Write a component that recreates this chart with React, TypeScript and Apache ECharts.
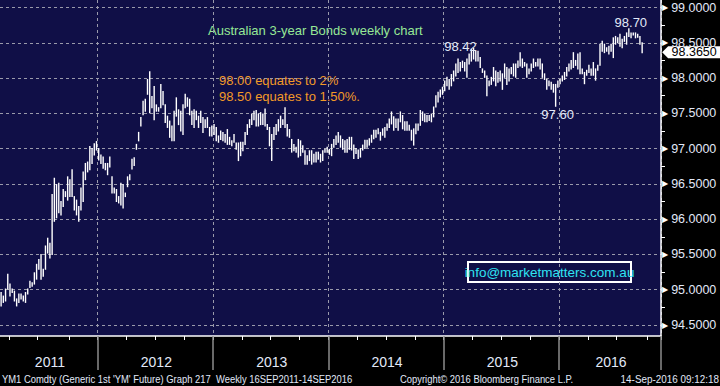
import React, { useEffect, useRef } from "react";
import * as echarts from "echarts";

// ---------- data ----------
const FIRST_WEEK = Date.UTC(2011, 2, 4); // Friday 4 Mar 2011
const WEEK_SLOTS = 298; // data weeks + empty weeks up to the right edge
const weeks: string[] = Array.from({ length: WEEK_SLOTS }, (_, i) =>
  new Date(FIRST_WEEK + i * 7 * 86400000).toISOString().slice(0, 10)
);

const highs: number[] = [
  94.96, 94.91, 95.01, 95.22, 95.08, 95.01, 94.98, 94.87, 94.94, 94.94,
  94.91, 94.96, 95.01, 95.12, 95.10, 95.24, 95.36, 95.43, 95.50, 95.29,
  95.62, 95.73, 95.66, 96.35, 96.58, 96.49, 96.51, 96.25, 96.42, 96.39,
  96.60, 96.56, 96.70, 96.32, 96.27, 96.18, 96.44, 96.67, 96.79, 96.81,
  97.03, 97.00, 97.07, 97.10, 97.00, 96.91, 96.88, 96.79, 96.79, 96.88,
  96.60, 96.44, 96.42, 96.32, 96.51, 96.49, 96.37, 96.60, 96.63, 96.85,
  96.87, 97.06, 97.23, 97.44, 97.67, 97.70, 97.98, 98.09, 97.74, 97.88,
  97.62, 97.58, 97.91, 97.81, 97.62, 97.46, 97.39, 97.32, 97.53, 97.72,
  97.55, 97.53, 97.62, 97.77, 97.72, 97.70, 97.53, 97.55, 97.53, 97.46,
  97.53, 97.44, 97.41, 97.44, 97.30, 97.32, 97.34, 97.30, 97.18, 97.25,
  97.23, 97.20, 97.27, 97.16, 97.11, 97.20, 97.08, 97.08, 97.09, 97.09,
  97.23, 97.34, 97.41, 97.49, 97.53, 97.54, 97.49, 97.51, 97.49, 97.56,
  97.34, 97.30, 97.20, 97.30, 97.34, 97.41, 97.46, 97.41, 97.58, 97.34,
  97.27, 97.13, 97.06, 97.02, 97.13, 97.11, 97.04, 96.97, 96.90, 96.97,
  96.97, 96.92, 96.95, 96.95, 96.92, 96.97, 96.99, 97.02, 96.99, 97.06,
  97.13, 97.18, 97.23, 97.18, 97.13, 97.11, 97.13, 97.16, 97.16, 97.05,
  97.00, 96.98, 97.00, 97.05, 97.12, 97.12, 97.14, 97.19, 97.26, 97.26,
  97.28, 97.23, 97.28, 97.30, 97.35, 97.42, 97.52, 97.45, 97.42, 97.42,
  97.52, 97.47, 97.38, 97.38, 97.33, 97.26, 97.28, 97.35, 97.35, 97.54,
  97.52, 97.49, 97.47, 97.47, 97.49, 97.59, 97.75, 97.80, 97.83, 97.87,
  97.96, 98.01, 97.98, 98.05, 98.10, 98.20, 98.27, 98.22, 98.24, 98.22,
  98.27, 98.34, 98.41, 98.42, 98.38, 98.38, 98.29, 98.13, 98.10, 98.03,
  97.96, 98.01, 98.15, 98.10, 98.08, 98.10, 98.06, 98.20, 98.15, 98.13,
  98.15, 98.20, 98.20, 98.24, 98.36, 98.27, 98.22, 98.20, 98.13, 98.20,
  98.27, 98.22, 98.27, 98.27, 98.20, 98.06, 97.98, 97.96, 97.94, 97.91,
  97.91, 97.96, 97.98, 98.03, 98.08, 98.15, 98.20, 98.25, 98.36, 98.25,
  98.34, 98.36, 98.13, 98.08, 98.11, 98.18, 98.13, 98.22, 98.13, 98.18,
  98.48, 98.52, 98.48, 98.43, 98.45, 98.48, 98.57, 98.59, 98.57, 98.62,
  98.55, 98.59, 98.64, 98.70, 98.64, 98.64, 98.64, 98.62, 98.59, 98.50,
];

const lows: number[] = [
  94.77, 94.82, 94.84, 95.01, 94.91, 94.96, 94.84, 94.77, 94.82, 94.87,
  94.84, 94.82, 94.94, 95.03, 95.05, 95.08, 95.15, 95.29, 95.15, 95.19,
  95.29, 95.52, 95.45, 95.50, 95.97, 96.02, 96.09, 96.06, 96.18, 96.32,
  96.27, 96.32, 96.32, 96.13, 96.06, 95.97, 96.13, 96.25, 96.56, 96.67,
  96.70, 96.79, 96.91, 96.98, 96.84, 96.79, 96.72, 96.70, 96.63, 96.74,
  96.37, 96.37, 96.25, 96.23, 96.20, 96.16, 96.32, 96.46, 96.56, 96.71,
  96.76, 96.99, 97.11, 97.32, 97.48, 97.53, 97.77, 97.51, 97.58, 97.41,
  97.53, 97.53, 97.58, 97.62, 97.37, 97.30, 97.16, 97.11, 97.11, 97.46,
  97.34, 97.25, 97.20, 97.58, 97.60, 97.48, 97.34, 97.30, 97.41, 97.30,
  97.37, 97.23, 97.30, 97.30, 97.18, 97.18, 97.20, 97.11, 97.09, 97.13,
  97.11, 97.09, 97.06, 97.06, 97.04, 97.09, 96.99, 96.83, 96.90, 96.97,
  97.06, 97.20, 97.30, 97.34, 97.41, 97.32, 97.32, 97.34, 97.34, 97.32,
  97.27, 97.04, 96.83, 97.13, 97.20, 97.25, 97.30, 97.34, 97.30, 97.18,
  97.16, 96.95, 96.97, 96.95, 96.88, 96.90, 96.95, 96.78, 96.78, 96.83,
  96.78, 96.81, 96.81, 96.85, 96.81, 96.83, 96.95, 96.95, 96.92, 96.90,
  97.02, 97.06, 97.09, 97.02, 96.99, 96.95, 96.95, 96.99, 96.98, 96.86,
  96.93, 96.86, 96.88, 96.98, 97.00, 97.02, 97.05, 97.09, 97.14, 97.16,
  97.21, 97.12, 97.19, 97.16, 97.26, 97.30, 97.35, 97.26, 97.30, 97.26,
  97.38, 97.28, 97.26, 97.26, 97.26, 97.12, 97.05, 97.21, 97.26, 97.33,
  97.40, 97.38, 97.38, 97.40, 97.38, 97.45, 97.59, 97.66, 97.73, 97.77,
  97.82, 97.89, 97.84, 97.89, 97.96, 98.03, 98.08, 98.10, 98.15, 98.10,
  98.01, 98.20, 98.24, 98.27, 98.24, 98.24, 98.15, 98.08, 98.01, 97.75,
  97.89, 97.91, 97.96, 97.89, 97.94, 97.96, 97.84, 98.01, 97.91, 97.96,
  98.06, 98.03, 98.01, 98.15, 98.17, 98.15, 98.17, 98.01, 98.06, 98.10,
  98.15, 98.17, 98.17, 98.13, 98.01, 97.98, 97.84, 97.89, 97.84, 97.80,
  97.60, 97.87, 97.92, 97.96, 97.98, 98.03, 98.10, 98.13, 98.15, 98.18,
  98.13, 98.06, 98.06, 97.92, 98.04, 98.08, 98.04, 98.04, 97.97, 98.11,
  98.18, 98.38, 98.36, 98.38, 98.34, 98.38, 98.29, 98.48, 98.50, 98.45,
  98.43, 98.52, 98.48, 98.59, 98.57, 98.61, 98.57, 98.58, 98.48, 98.36,
];

const lastPrice = 98.365;
const lastPriceText = "98.3650";
const callouts = [
  { week: 213, value: 98.42, text: "98.42" },
  { week: 250, value: 97.6, text: "97.60" },
  { week: 283, value: 98.7, text: "98.70" },
];
const priceTickMin = 94.5;
const priceTickMax = 99.0;
const priceTickStep = 0.5;

const chartTitle = "Australian 3-year Bonds weekly chart";
const noteLines = ["98.00 equates to 2%", "98.50 equates to 1.50%."];
const contactText = "info@marketmatters.com.au";
const footerLeft = "YM1 Comdty (Generic 1st 'YM' Future) Graph 217  Weekly 16SEP2011-14SEP2016";
const footerMid = "Copyright\u00A9 2016 Bloomberg Finance L.P.";
const footerRight = "14-Sep-2016 09:12:18";

// ---------- layout ----------
const W = 720;
const H = 386;
const PLOT_RIGHT = 59; // px from right edge
const PLOT_BOTTOM = 50; // px from bottom edge (plot box 0..336)
const TICK_TOP = 7.5; // y of 99.0
const TICK_BOTTOM = 325; // y of 94.5
const pxPerUnit = (TICK_BOTTOM - TICK_TOP) / (priceTickMax - priceTickMin);
const plotMax = priceTickMax + TICK_TOP / pxPerUnit;
const plotMin = priceTickMin - (H - PLOT_BOTTOM - TICK_BOTTOM) / pxPerUnit;

const yearOf = (i: number) => weeks[i].slice(0, 4);
const monthOf = (i: number) => Number(weeks[i].slice(5, 7));
const isYearStart = (i: number) => i > 0 && yearOf(i) !== yearOf(i - 1);
const isQuarterStart = (i: number) =>
  i > 0 && monthOf(i) !== monthOf(i - 1) && [1, 4, 7, 10].includes(monthOf(i));

const yearLabelIdx = new Set<number>();
{
  const spans: Record<string, [number, number]> = {};
  weeks.forEach((_, i) => {
    const y = yearOf(i);
    if (!spans[y]) spans[y] = [i, i];
    spans[y][1] = i;
  });
  Object.values(spans).forEach(([a, b]) => yearLabelIdx.add(Math.round((a + b) / 2)));
}

const TEXT_LIGHT = "#e2e9f8";
const GRID_DASH = "#9a9aab";
const PLOT_BG = "#100f47";
const SANS = "'Liberation Sans', Arial, sans-serif";
const FOOT_FONT = "11.5px 'Liberation Sans', Arial, sans-serif";

export default function App() {
  const ref = useRef<HTMLDivElement>(null);

  useEffect(() => {
    document.body.style.margin = "0";
    document.body.style.background = "#000";
    if (!ref.current) return;
    const chart = echarts.init(ref.current, undefined, { renderer: "svg" });

    const barData = highs.map((h, i) => [i, lows[i], h]);

    const option: any = {
      animation: false,
      backgroundColor: "#000",
      grid: [
        {
          left: 0, right: PLOT_RIGHT, top: 0, bottom: PLOT_BOTTOM,
          show: true, backgroundColor: PLOT_BG, borderWidth: 0,
        },
        {
          left: 0, right: PLOT_RIGHT, top: TICK_TOP, bottom: H - TICK_BOTTOM,
          show: false,
        },
      ],
      xAxis: [
        {
          type: "category",
          gridIndex: 0,
          data: weeks,
          boundaryGap: true,
          axisLine: { show: true, lineStyle: { color: "#ffffff", width: 1.5 } },
          axisTick: {
            show: true,
            interval: (i: number) => isQuarterStart(i),
            length: 4,
            lineStyle: { color: "#ffffff", width: 1 },
          },
          axisLabel: {
            show: true,
            interval: (i: number) => yearLabelIdx.has(i),
            formatter: (v: string) => v.slice(0, 4),
            color: TEXT_LIGHT,
            fontSize: 14,
            fontFamily: SANS,
            margin: 19,
          },
          splitLine: {
            show: true,
            interval: (i: number) => isYearStart(i),
            lineStyle: { color: GRID_DASH, type: [3, 3], width: 1 },
          },
        },
        {
          type: "category",
          gridIndex: 0,
          data: weeks,
          position: "bottom",
          boundaryGap: true,
          axisLine: { show: false },
          axisTick: {
            show: true,
            interval: (i: number) => isYearStart(i),
            length: 34,
            lineStyle: { color: "#8c8c8c", width: 1.5 },
          },
          axisLabel: { show: false },
          splitLine: { show: false },
        },
        {
          type: "category",
          gridIndex: 1,
          data: weeks,
          show: false,
        },
      ],
      yAxis: [
        {
          type: "value",
          gridIndex: 0,
          position: "right",
          min: plotMin,
          max: plotMax,
          axisLine: { show: true, lineStyle: { color: "#ffffff", width: 1.5 } },
          axisTick: { show: false },
          axisLabel: { show: false },
          splitLine: { show: false },
        },
        {
          type: "value",
          gridIndex: 1,
          position: "right",
          min: priceTickMin,
          max: priceTickMax,
          interval: priceTickStep,
          axisLine: { show: false },
          axisTick: { show: false },
          minorTick: {
            show: true,
            splitNumber: 2,
            length: 4,
            lineStyle: { color: "#ffffff", width: 1 },
          },
          splitLine: {
            show: true,
            lineStyle: { color: GRID_DASH, type: [3, 3], width: 1 },
          },
          axisLabel: {
            show: true,
            margin: 1,
            formatter: (v: number) => `{a|\u25B6}{b|${v.toFixed(4)}}`,
            rich: {
              a: { color: "#ffffff", fontSize: 8, padding: [0, 3, 0, 0], fontFamily: "DejaVu Sans" },
              b: { color: TEXT_LIGHT, fontSize: 12.5, fontFamily: SANS },
            },
          },
        },
      ],
      series: [
        {
          type: "custom",
          xAxisIndex: 0,
          yAxisIndex: 0,
          data: barData,
          encode: { x: 0, y: [1, 2] },
          renderItem: (params: any, api: any) => {
            const top = api.coord([api.value(0), api.value(2)]);
            const bot = api.coord([api.value(0), api.value(1)]);
            return {
              type: "line",
              shape: { x1: top[0], y1: top[1] - 0.5, x2: top[0], y2: bot[1] + 0.5 },
              style: { stroke: "#ffffff", lineWidth: 1.4 },
            };
          },
          markPoint: {
            silent: true,
            data: [
              ...callouts.map((c, k) => ({
                coord: [weeks[c.week], c.value],
                symbol: "rect",
                symbolSize: 1,
                itemStyle: { color: "rgba(0,0,0,0)" },
                label: {
                  show: true,
                  position: "inside",
                  formatter: c.text,
                  color: TEXT_LIGHT,
                  fontSize: 13,
                  fontFamily: SANS,
                  offset: k === 0 ? [-13, -2] : k === 1 ? [2, 8] : [2, -6],
                },
              })),
              {
                coord: [weeks[highs.length - 1], lastPrice],
                symbol: "path://M0,6 L6,0 L58,0 L58,12 L6,12 Z",
                symbolSize: [58, 12],
                symbolKeepAspect: false,
                symbolOffset: [49, 0],
                itemStyle: { color: "#ffffff" },
                label: {
                  show: true,
                  position: "inside",
                  formatter: lastPriceText,
                  color: "#000000",
                  fontSize: 12.5,
                  fontFamily: SANS,
                  offset: [3, 0],
                },
              },
            ],
          },
        },
      ],
      graphic: [
        {
          type: "text",
          x: 208,
          y: 30,
          style: {
            text: chartTitle,
            fill: "#96e896",
            font: `13px ${SANS}`,
            verticalAlign: "middle",
          },
        },
        ...noteLines.map((t, k) => ({
          type: "text",
          x: 219,
          y: 80 + k * 16,
          style: {
            text: t,
            fill: "#f39a27",
            font: `13px ${SANS}`,
            verticalAlign: "middle",
          },
        })),
        {
          type: "rect",
          shape: { x: 468, y: 262, width: 163, height: 20 },
          style: { fill: "none", stroke: "#ffffff", lineWidth: 2 },
        },
        {
          type: "text",
          x: 549.5,
          y: 272,
          style: {
            text: contactText,
            fill: "#2fe3f2",
            font: `13.5px ${SANS}`,
            align: "center",
            verticalAlign: "middle",
          },
        },
        {
          type: "text",
          x: 2,
          y: 379,
          scaleX: 0.82,
          style: {
            text: footerLeft,
            fill: TEXT_LIGHT,
            font: FOOT_FONT,
            verticalAlign: "middle",
          },
        },
        {
          type: "text",
          x: 400,
          y: 379,
          scaleX: 0.82,
          style: {
            text: footerMid,
            fill: TEXT_LIGHT,
            font: FOOT_FONT,
            verticalAlign: "middle",
          },
        },
        {
          type: "text",
          x: 719,
          y: 379,
          scaleX: 0.86,
          style: {
            text: footerRight,
            fill: TEXT_LIGHT,
            font: FOOT_FONT,
            align: "right",
            verticalAlign: "middle",
          },
        },
      ],
    };

    chart.setOption(option);
    return () => chart.dispose();
  }, []);

  return <div ref={ref} style={{ width: W, height: H, background: "#000" }} />;
}
